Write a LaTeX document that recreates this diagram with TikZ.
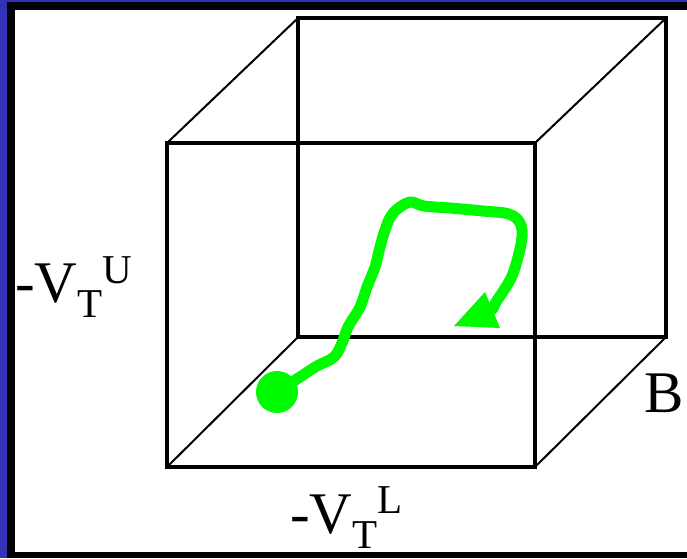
\documentclass[tikz,border=0pt]{standalone}
\usepackage{fontspec}
\setmainfont{Liberation Serif}
\definecolor{slideblue}{RGB}{50,50,185}
\definecolor{pathgreen}{RGB}{0,250,0}
\tikzset{
  edgeline/.style={line width=3.2pt, line cap=rect},
  diagline/.style={line width=2pt},
  lbl/.style={inner sep=0pt, outer sep=0pt, anchor=base west},
  trail/.style={pathgreen, line width=11pt, line cap=round, line join=round},
}
\newcommand{\bigsz}{\fontsize{59}{59}\selectfont}
\newcommand{\smsz}{\fontsize{41}{41}\selectfont}
\begin{document}
\begin{tikzpicture}[x=1pt, y=-1pt]
\useasboundingbox (0,0) rectangle (687,558);
% slide frame
\fill[slideblue] (0,0) rectangle (687,558);
\fill[black] (7,2) rectangle (687,558);
\fill[white] (15,10) rectangle (687,552);
% cube corners
\coordinate (f1) at (167,143);
\coordinate (f2) at (535,143);
\coordinate (f3) at (535,467);
\coordinate (f4) at (167,467);
\coordinate (b1) at (298,18);
\coordinate (b2) at (666,18);
\coordinate (b3) at (666,337);
\coordinate (b4) at (298,337);
\draw[edgeline] (f1) -- (f2) -- (f3) -- (f4) -- cycle;
\draw[edgeline] (b1) -- (b2) -- (b3) -- (b4) -- cycle;
\draw[diagline] (f1) -- (b1);
\draw[diagline] (f2) -- (b2);
\draw[diagline] (f3) -- (b3);
\draw[diagline] (f4) -- (b4);
% labels
\node[lbl] (vu) at (15,302) {\bigsz -V\raisebox{-15pt}{\smsz T}\raisebox{19pt}{\smsz U}};
\node[lbl] (vl) at (290,533) {\bigsz -V\raisebox{-15pt}{\smsz T}\raisebox{20pt}{\smsz L}};
\node[lbl] (bl) at (644,412) {\bigsz B};
% trajectory
\node[circle, fill=pathgreen, minimum size=42pt, inner sep=0pt] (start) at (277,392) {};
\coordinate (tip) at (454,326);
\coordinate (wingA) at (485,292);
\coordinate (wingB) at (500,328);
\coordinate (stem) at (493,309);
\draw[trail]
  plot[smooth, tension=0.6] coordinates {(start.center) (300,377) (317,366) (334,357) (342,343) (348,327) (360,307) (367,287) (375,267) (380,247) (385,230) (391,216) (400,207) (411,202) (424,206) (450,208) (483,211) (509,214) (520,223) (522,237) (518,257) (512,276) (504,290) (496,302) (stem)};
\fill[pathgreen] (tip) -- (wingA) -- (wingB) -- cycle;
\end{tikzpicture}
\end{document}
